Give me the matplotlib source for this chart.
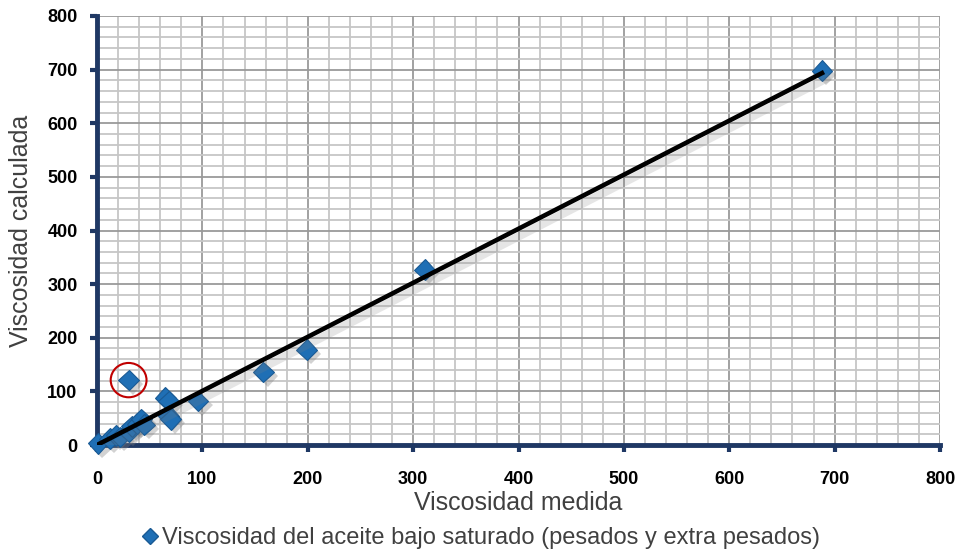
import matplotlib
matplotlib.use("Agg")
import matplotlib.pyplot as plt
import matplotlib.patheffects as pe
from matplotlib.patches import Ellipse
from matplotlib.lines import Line2D
import numpy as np

# ---- data ----
x_medida = [1, 12, 18, 22, 30, 33, 38, 42, 45, 30, 65, 68, 68, 70, 96, 158, 199, 311, 688]
y_calc = [3, 12, 18, 15, 25, 35, 40, 48, 38, 121, 88, 82, 55, 48, 82, 136, 178, 327, 698]
outlier_idx = 9
x_ticks = [0, 100, 200, 300, 400, 500, 600, 700, 800]
y_ticks = [0, 100, 200, 300, 400, 500, 600, 700, 800]
xlabel = "Viscosidad medida"
ylabel = "Viscosidad calculada"
legend_label = "Viscosidad del aceite bajo saturado (pesados y extra pesados)"

navy = "#1F3864"
blue = "#1F6FB5"
label_color = "#404040"

fig = plt.figure(figsize=(9.6, 5.52), dpi=100)
ax = fig.add_axes([97/960, 1-445/552, (940-97)/960, (445-16)/552])

ax.set_xlim(0, 800)
ax.set_ylim(0, 800)
ax.set_xticks(x_ticks)
ax.set_yticks(y_ticks)
ax.set_xticks(np.arange(0, 801, 20), minor=True)
ax.set_yticks(np.arange(0, 801, 20), minor=True)
ax.grid(which="minor", color="#C6C6C6", linewidth=1.3, zorder=0)
ax.grid(which="major", color="#9A9A9A", linewidth=1.3, zorder=0)
ax.set_axisbelow(True)

for s in ["top", "right"]:
    ax.spines[s].set_visible(False)
for s in ["left", "bottom"]:
    ax.spines[s].set_color(navy)
    ax.spines[s].set_linewidth(3.5)
    ax.spines[s].set_zorder(1)
ax.tick_params(which="major", direction="out", length=5, width=3, color=navy)
ax.tick_params(which="minor", length=0)
ax.tick_params(axis="x", pad=14)
ax.tick_params(axis="y", pad=9)

for lbl in ax.get_xticklabels() + ax.get_yticklabels():
    lbl.set_fontfamily(["Liberation Sans", "DejaVu Sans"])
    lbl.set_fontweight("bold")
    lbl.set_fontsize(13)

ax.set_xlabel(xlabel, fontsize=18, color=label_color, family="Liberation Sans", labelpad=2)
ax.set_ylabel(ylabel, fontsize=18, color=label_color, family="Liberation Sans", labelpad=10)

# trend line through origin (least squares)
xa = np.array(x_medida, float)
ya = np.array(y_calc, float)
slope = np.sum(xa * ya) / np.sum(xa * xa)
xl = np.array([0, xa.max()])
ax.plot(xl, slope * xl, color="black", linewidth=3.3, zorder=4,
        path_effects=[pe.SimpleLineShadow(offset=(3, -4), shadow_color="gray", alpha=0.2, linewidth=6),
                      pe.Normal()])

ax.plot(x_medida, y_calc, linestyle="none", marker="D", markersize=10.5,
        markerfacecolor=blue, markeredgecolor="#1A5A94", markeredgewidth=0.8, zorder=3,
        path_effects=[pe.SimplePatchShadow(offset=(3, -3), shadow_rgbFace="gray", alpha=0.35),
                      pe.Normal()], clip_on=False)

# red circle around outlier
ax.add_patch(Ellipse((x_medida[outlier_idx], y_calc[outlier_idx]), 34, 64,
                     fill=False, edgecolor="#C00000", linewidth=1.5, zorder=5))

handle = Line2D([], [], linestyle="none", marker="D", markersize=8,
                markerfacecolor=blue, markeredgecolor="#1A5A94")
fig.legend([handle], [legend_label], loc="center", bbox_to_anchor=(0.5, 1-538/552),
           frameon=False, prop={"family": "Liberation Sans", "size": 17},
           labelcolor=label_color,
           handletextpad=0.1, borderpad=0, handlelength=0.8)

fig.savefig("out.png", dpi=100)
